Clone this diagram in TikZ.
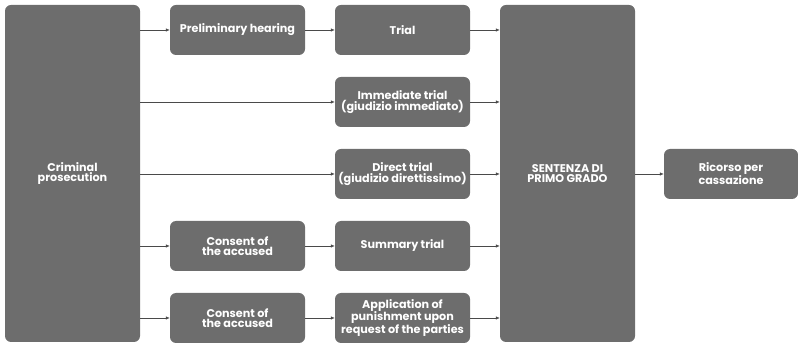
\documentclass[tikz,border=0pt]{standalone}
\usepackage{fontspec}
\setmainfont{Poppins}
\usetikzlibrary{arrows.meta}
\definecolor{boxgrey}{HTML}{6D6D6D}
\definecolor{linegrey}{HTML}{4A4A4A}
\begin{document}
\begin{tikzpicture}[x=1pt,y=-1pt,
  box/.style={draw=none,fill=boxgrey,text=white,rounded corners=6pt,minimum width=135pt,minimum height=50pt,
    inner sep=0pt,align=center,font=\fontsize{11.2}{10.6}\selectfont\bfseries},
  tall/.style={box,minimum height=337pt},
  arr/.style={draw=linegrey,line width=.6pt,-{Latex[length=4pt,width=3.5pt]}}]
\useasboundingbox(0,0)rectangle(798,344);
\node[tall](cp)at(72.5,173.5){Criminal\\prosecution};
\node[tall](sp)at(567.5,173.5){SENTENZA DI\\PRIMO GRADO};
\node[box](ph)at(237.5,30){Preliminary hearing};\node[box](tr)at(402.5,30){Trial};
\node[box](it)at(402.5,102){Immediate trial\\(giudizio immediato)};
\node[box](dt)at(402.5,174){Direct trial\\(giudizio direttissimo)};
\node[box](ca)at(237.5,246){Consent of\\the accused};\node[box](st)at(402.5,246){Summary trial};
\node[box](cb)at(237.5,318){Consent of\\the accused};\node[box](ap)at(402.5,318){Application of\\punishment upon\\request of the parties};
\node[box,minimum width=134pt](rc)at(731,174){Ricorso per\\cassazione};
\foreach \n in {ph,it,dt,ca,cb}{\draw[arr](cp.east|-\n.west)--(\n.west);}
\draw[arr](ph)--(tr);\draw[arr](ca)--(st);\draw[arr](cb)--(ap);
\foreach \n in {tr,it,dt,st,ap}{\draw[arr](\n.east)--(sp.west|-\n.east);}
\draw[arr](sp.east|-rc.west)--(rc.west);
\end{tikzpicture}
\end{document}
